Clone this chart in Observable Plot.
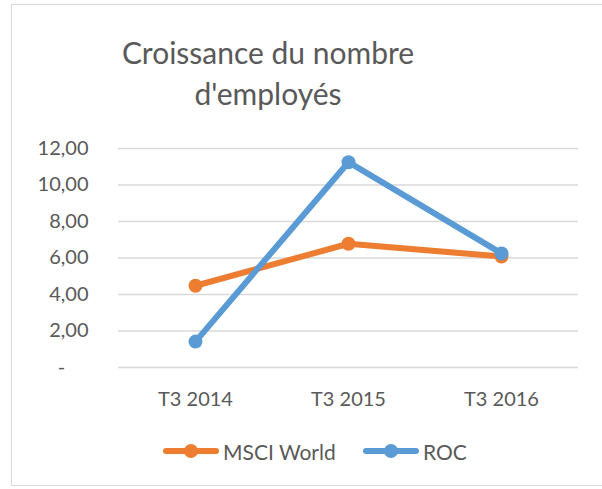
<!DOCTYPE html>
<html>
<head>
<meta charset="utf-8">
<script src="https://cdn.jsdelivr.net/npm/d3@7"></script>
<script src="https://cdn.jsdelivr.net/npm/@observablehq/plot@0.6"></script>
<style>
  html, body { margin: 0; padding: 0; background: #fff; width: 602px; height: 489px; overflow: hidden; }
  body { position: relative; font-family: Lato, "Open Sans", sans-serif; color: #595959; }
  #frame { position: absolute; left: 11px; top: 4px; width: 640px; height: 482px; border: 1.5px solid #d9d9d9; box-sizing: border-box; }
  #title { position: absolute; left: 68px; width: 400px; top: 32px; text-align: center; font-size: 30px; line-height: 41px; color: #595959; }
  #chart { position: absolute; left: 0; top: 0; }
  .leg { position: absolute; top: 438px; height: 26px; display: flex; align-items: center; font-size: 21px; color: #595959; white-space: nowrap; }
  .leg svg { margin-right: 4px; }
</style>
</head>
<body>
<div id="frame"></div>
<div id="title">Croissance du nombre<br>d'employés</div>
<div id="chart"></div>
<div id="legend"></div>
<script>
const categories = ["T3 2014", "T3 2015", "T3 2016"];
const msciWorld = [4.48, 6.78, 6.08];
const roc = [1.42, 11.25, 6.25];
const yTicks = [0, 2, 4, 6, 8, 10, 12];
const seriesNames = ["MSCI World", "ROC"];
const seriesColors = ["#ED7D31", "#5B9BD5"];

const data = [];
categories.forEach((c, i) => data.push({cat: c, value: msciWorld[i], series: seriesNames[0]}));
categories.forEach((c, i) => data.push({cat: c, value: roc[i], series: seriesNames[1]}));

const fmt = d => d === 0 ? "-\u2007\u2007" : d.toFixed(2).replace(".", ",");

const chart = Plot.plot({
  width: 602,
  height: 420,
  marginLeft: 118,
  marginRight: 24,
  marginTop: 148,
  marginBottom: 53,
  style: {fontFamily: "Lato, 'Open Sans', sans-serif", fontSize: "20px", color: "#595959", background: "transparent", overflow: "visible"},
  x: {type: "point", domain: categories, padding: 0.5, label: null},
  y: {domain: [0, 12], label: null},
  color: {domain: seriesNames, range: seriesColors},
  marks: [
    Plot.ruleY(yTicks, {stroke: "#d9d9d9", strokeWidth: 1.5}),
    Plot.axisY({ticks: yTicks, tickSize: 0, tickPadding: 30, tickFormat: fmt, fill: "#595959", fontSize: 20, label: null}),
    Plot.axisX({tickSize: 0, tickPadding: 24, fill: "#595959", fontSize: 20, label: null}),
    Plot.line(data, {x: "cat", y: "value", z: "series", stroke: "series", strokeWidth: 6, strokeLinejoin: "round", strokeLinecap: "round"}),
    Plot.dot(data, {x: "cat", y: "value", fill: "series", r: 7, stroke: "none"})
  ]
});
document.getElementById("chart").appendChild(chart);

const legendLefts = [163, 363];
const legend = document.getElementById("legend");
seriesNames.forEach((name, i) => {
  const item = document.createElement("div");
  item.className = "leg";
  item.style.left = legendLefts[i] + "px";
  item.innerHTML = `<svg width="56" height="20"><line x1="3" y1="10" x2="53" y2="10" stroke="${seriesColors[i]}" stroke-width="6" stroke-linecap="round"/><circle cx="28" cy="10" r="7" fill="${seriesColors[i]}"/></svg><span>${name}</span>`;
  legend.appendChild(item);
});
</script>
</body>
</html>
